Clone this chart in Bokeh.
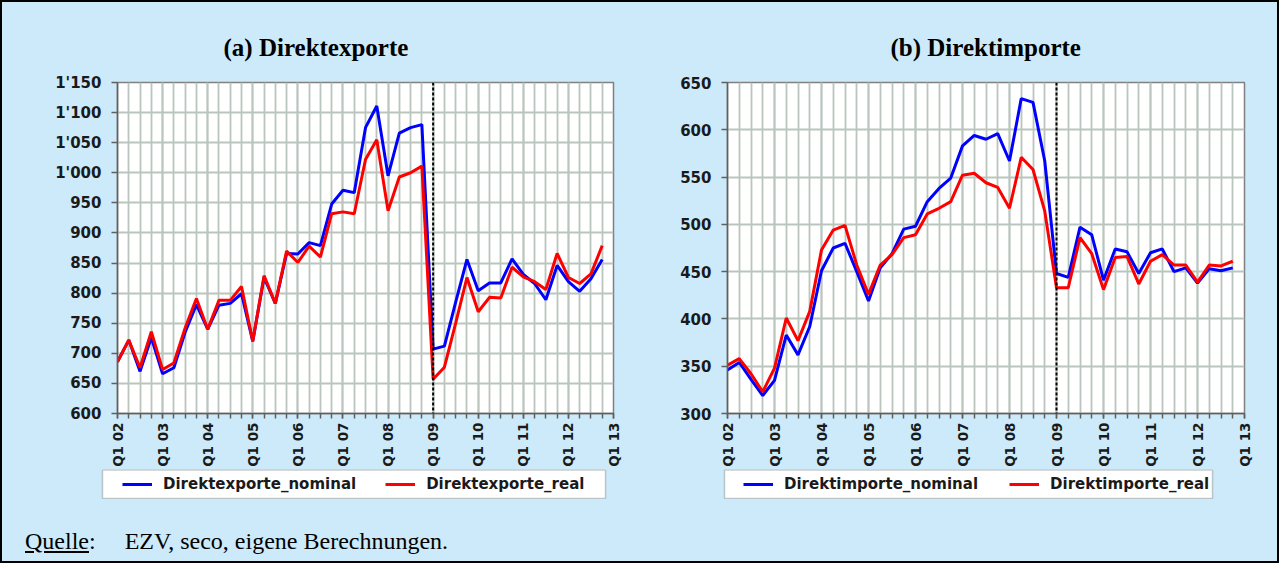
from math import pi
from bokeh.plotting import figure
from bokeh.models import FixedTicker, Span, Legend, LegendItem, Div, BoxAnnotation, Range1d
from bokeh.layouts import row, column
from bokeh.embed import file_html
from bokeh.resources import INLINE

# ---------------- data ----------------
tick_labels = ["Q1 02", "Q1 03", "Q1 04", "Q1 05", "Q1 06", "Q1 07",
               "Q1 08", "Q1 09", "Q1 10", "Q1 11", "Q1 12", "Q1 13"]

exp_nominal = [686, 722, 670, 726, 666, 676, 735, 781, 740, 780, 783, 799,
               720, 826, 783, 866, 865, 884, 879, 948, 971, 967, 1075, 1111,
               995, 1066, 1075, 1080, 707, 712, 785, 856, 804, 817, 817, 857,
               831, 816, 789, 846, 819, 803, 824, 856]
exp_real = [686, 722, 676, 736, 673, 684, 742, 791, 740, 788, 788, 811,
            720, 829, 783, 870, 851, 878, 860, 932, 935, 932, 1022, 1055,
            937, 993, 1000, 1011, 657, 677, 750, 826, 769, 793, 792, 843,
            827, 819, 806, 866, 826, 816, 832, 879]
imp_nominal = [346, 354, 336, 319, 335, 383, 362, 392, 451, 475, 480, 450,
               419, 454, 469, 495, 498, 524, 538, 549, 583, 594, 590, 596,
               567, 633, 629, 567, 448, 444, 497, 489, 441, 474, 471, 448,
               470, 474, 450, 454, 438, 453, 451, 454]
imp_real = [351, 358, 342, 323, 348, 401, 377, 408, 473, 494, 499, 457,
            426, 457, 468, 486, 489, 511, 517, 524, 552, 554, 544, 539,
            517, 571, 558, 514, 433, 433, 486, 469, 431, 465, 466, 437,
            461, 468, 457, 457, 439, 457, 456, 461]

exp_yticks = [600, 650, 700, 750, 800, 850, 900, 950, 1000, 1050, 1100, 1150]
imp_yticks = [300, 350, 400, 450, 500, 550, 600, 650]

break_quarter = "Q1 09"

exp_names = ["Direktexporte_nominal", "Direktexporte_real"]
imp_names = ["Direktimporte_nominal", "Direktimporte_real"]

# ---------------- styles ----------------
BG = "#cceafa"
GRID = "#bac5bd"
AXIS = "#5f5f5f"
BLUE = "#0000ff"
RED = "#ff0000"
LEG_H = 30


def make_panel(title, nominal, real, yticks, frame_w, left, right, title_offset):
    xs = list(range(len(nominal)))
    major = [4 * i for i in range(len(tick_labels))]
    p = figure(frame_width=frame_w, frame_height=331,
               min_border_left=left, min_border_right=right,
               min_border_top=80, min_border_bottom=56,
               x_range=(0, major[-1]), y_range=(yticks[0], yticks[-1]),
               output_backend="svg", toolbar_location=None,
               background_fill_color="white", border_fill_color=BG,
               outline_line_color="#808080", outline_line_width=1.5)

    p.title.text = title
    p.title.text_font = "Liberation Serif"
    p.title.text_font_size = "25px"
    p.title.text_font_style = "bold"
    p.title.text_color = "black"
    p.title.align = "left"
    p.title.offset = title_offset
    p.title.standoff = 43

    # x axis
    p.xaxis.ticker = FixedTicker(ticks=major, minor_ticks=list(range(major[-1] + 1)))
    p.xaxis.major_label_overrides = {m: lab for m, lab in zip(major, tick_labels)}
    p.xaxis.major_label_orientation = pi / 2
    p.xaxis.major_label_text_font = "DejaVu Sans"
    p.xaxis.major_label_text_font_style = "bold"
    p.xaxis.major_label_text_font_size = "13.5px"
    p.xaxis.major_label_text_color = "#1a1a1a"
    p.xaxis.major_label_standoff = 4
    p.xaxis.major_tick_in = 0
    p.xaxis.major_tick_out = 5
    p.xaxis.minor_tick_in = 0
    p.xaxis.minor_tick_out = 5
    p.xaxis.axis_line_color = AXIS
    p.xaxis.axis_line_width = 1.5
    p.xaxis.major_tick_line_color = AXIS
    p.xaxis.minor_tick_line_color = AXIS
    p.xaxis.major_tick_line_width = 1.5
    p.xaxis.minor_tick_line_width = 1.5

    # y axis
    p.yaxis.ticker = FixedTicker(ticks=yticks, minor_ticks=[])
    p.yaxis.major_label_overrides = {v: f"{v:,}".replace(",", "'") for v in yticks}
    p.yaxis.major_label_text_font = "DejaVu Sans"
    p.yaxis.major_label_text_font_style = "bold"
    p.yaxis.major_label_text_font_size = "15px"
    p.yaxis.major_label_text_color = "#1a1a1a"
    p.yaxis.major_label_standoff = 10
    p.yaxis.major_tick_in = 0
    p.yaxis.major_tick_out = 6
    p.yaxis.axis_line_color = AXIS
    p.yaxis.axis_line_width = 1.5
    p.yaxis.major_tick_line_color = AXIS
    p.yaxis.major_tick_line_width = 1.5

    # grid
    p.xgrid.grid_line_color = GRID
    p.xgrid.grid_line_width = 1.8
    p.xgrid.minor_grid_line_color = GRID
    p.xgrid.minor_grid_line_width = 1.8
    p.ygrid.grid_line_color = GRID
    p.ygrid.grid_line_width = 1.8

    # break line
    p.add_layout(Span(location=tick_labels.index(break_quarter) * 4, dimension="height",
                      line_color="black", line_width=2, line_dash="3 2"))

    p.line(xs, nominal, line_color=BLUE, line_width=3)
    p.line(xs, real, line_color=RED, line_width=3)
    return p


def make_legend(names, nominal, real, width, box_left, box_right, leg_x, spacing):
    # legend strip below each panel; the series lie outside its (pixel) ranges,
    # so only their legend glyphs are visible here
    xs = list(range(len(nominal)))
    lf = figure(width=width, height=LEG_H, min_border=0,
                x_range=Range1d(0, width), y_range=Range1d(0, LEG_H),
                x_axis_location=None, y_axis_location=None,
                output_backend="svg", toolbar_location=None,
                background_fill_color=BG, border_fill_color=BG,
                outline_line_color=None)
    lf.grid.visible = False
    lf.add_layout(BoxAnnotation(left=box_left, right=box_right, bottom=1, top=LEG_H - 0.5,
                                fill_color="white", fill_alpha=1.0,
                                line_color="#555555", line_width=1.5))
    r1 = lf.line(xs, nominal, line_color=BLUE, line_width=3)
    r2 = lf.line(xs, real, line_color=RED, line_width=3)
    leg = Legend(items=[LegendItem(label=names[0], renderers=[r1]),
                        LegendItem(label=names[1], renderers=[r2])],
                 orientation="horizontal", location=(leg_x, 1),
                 padding=5, spacing=spacing, glyph_width=30, glyph_height=16,
                 label_standoff=11, label_text_font="DejaVu Sans",
                 label_text_font_style="bold", label_text_font_size="15px",
                 label_text_color="#1a1a1a",
                 border_line_alpha=0, background_fill_alpha=0, margin=0)
    lf.add_layout(leg)
    return lf


pa = make_panel("(a) Direktexporte", exp_nominal, exp_real, exp_yticks,
                frame_w=496, left=115, right=37, title_offset=106)
pb = make_panel("(b) Direktimporte", imp_nominal, imp_real, imp_yticks,
                frame_w=517, left=77, right=23, title_offset=163)

la = make_legend(exp_names, exp_nominal, exp_real, 648, 100, 603, 115, 29)
lb = make_legend(imp_names, imp_nominal, imp_real, 617, 74, 562, 88, 31)

footer = Div(text=('<div style="position:relative; left:18px; top:25px; '
                   'font-family:\'Liberation Serif\'; font-size:24px; line-height:24px; '
                   'color:black; white-space:nowrap;">'
                   '<span style="text-decoration:underline;">Quelle</span>:'
                   '<span style="display:inline-block; width:29px;"></span>'
                   'EZV, seco, eigene Berechnungen.</div>'),
             width=1265, height=52)

layout = column(row(pa, pb, spacing=0), row(la, lb, spacing=0), footer, spacing=0,
                styles={"border": "2px solid black", "background-color": BG})

open("out.html", "w").write(file_html(layout, INLINE))
